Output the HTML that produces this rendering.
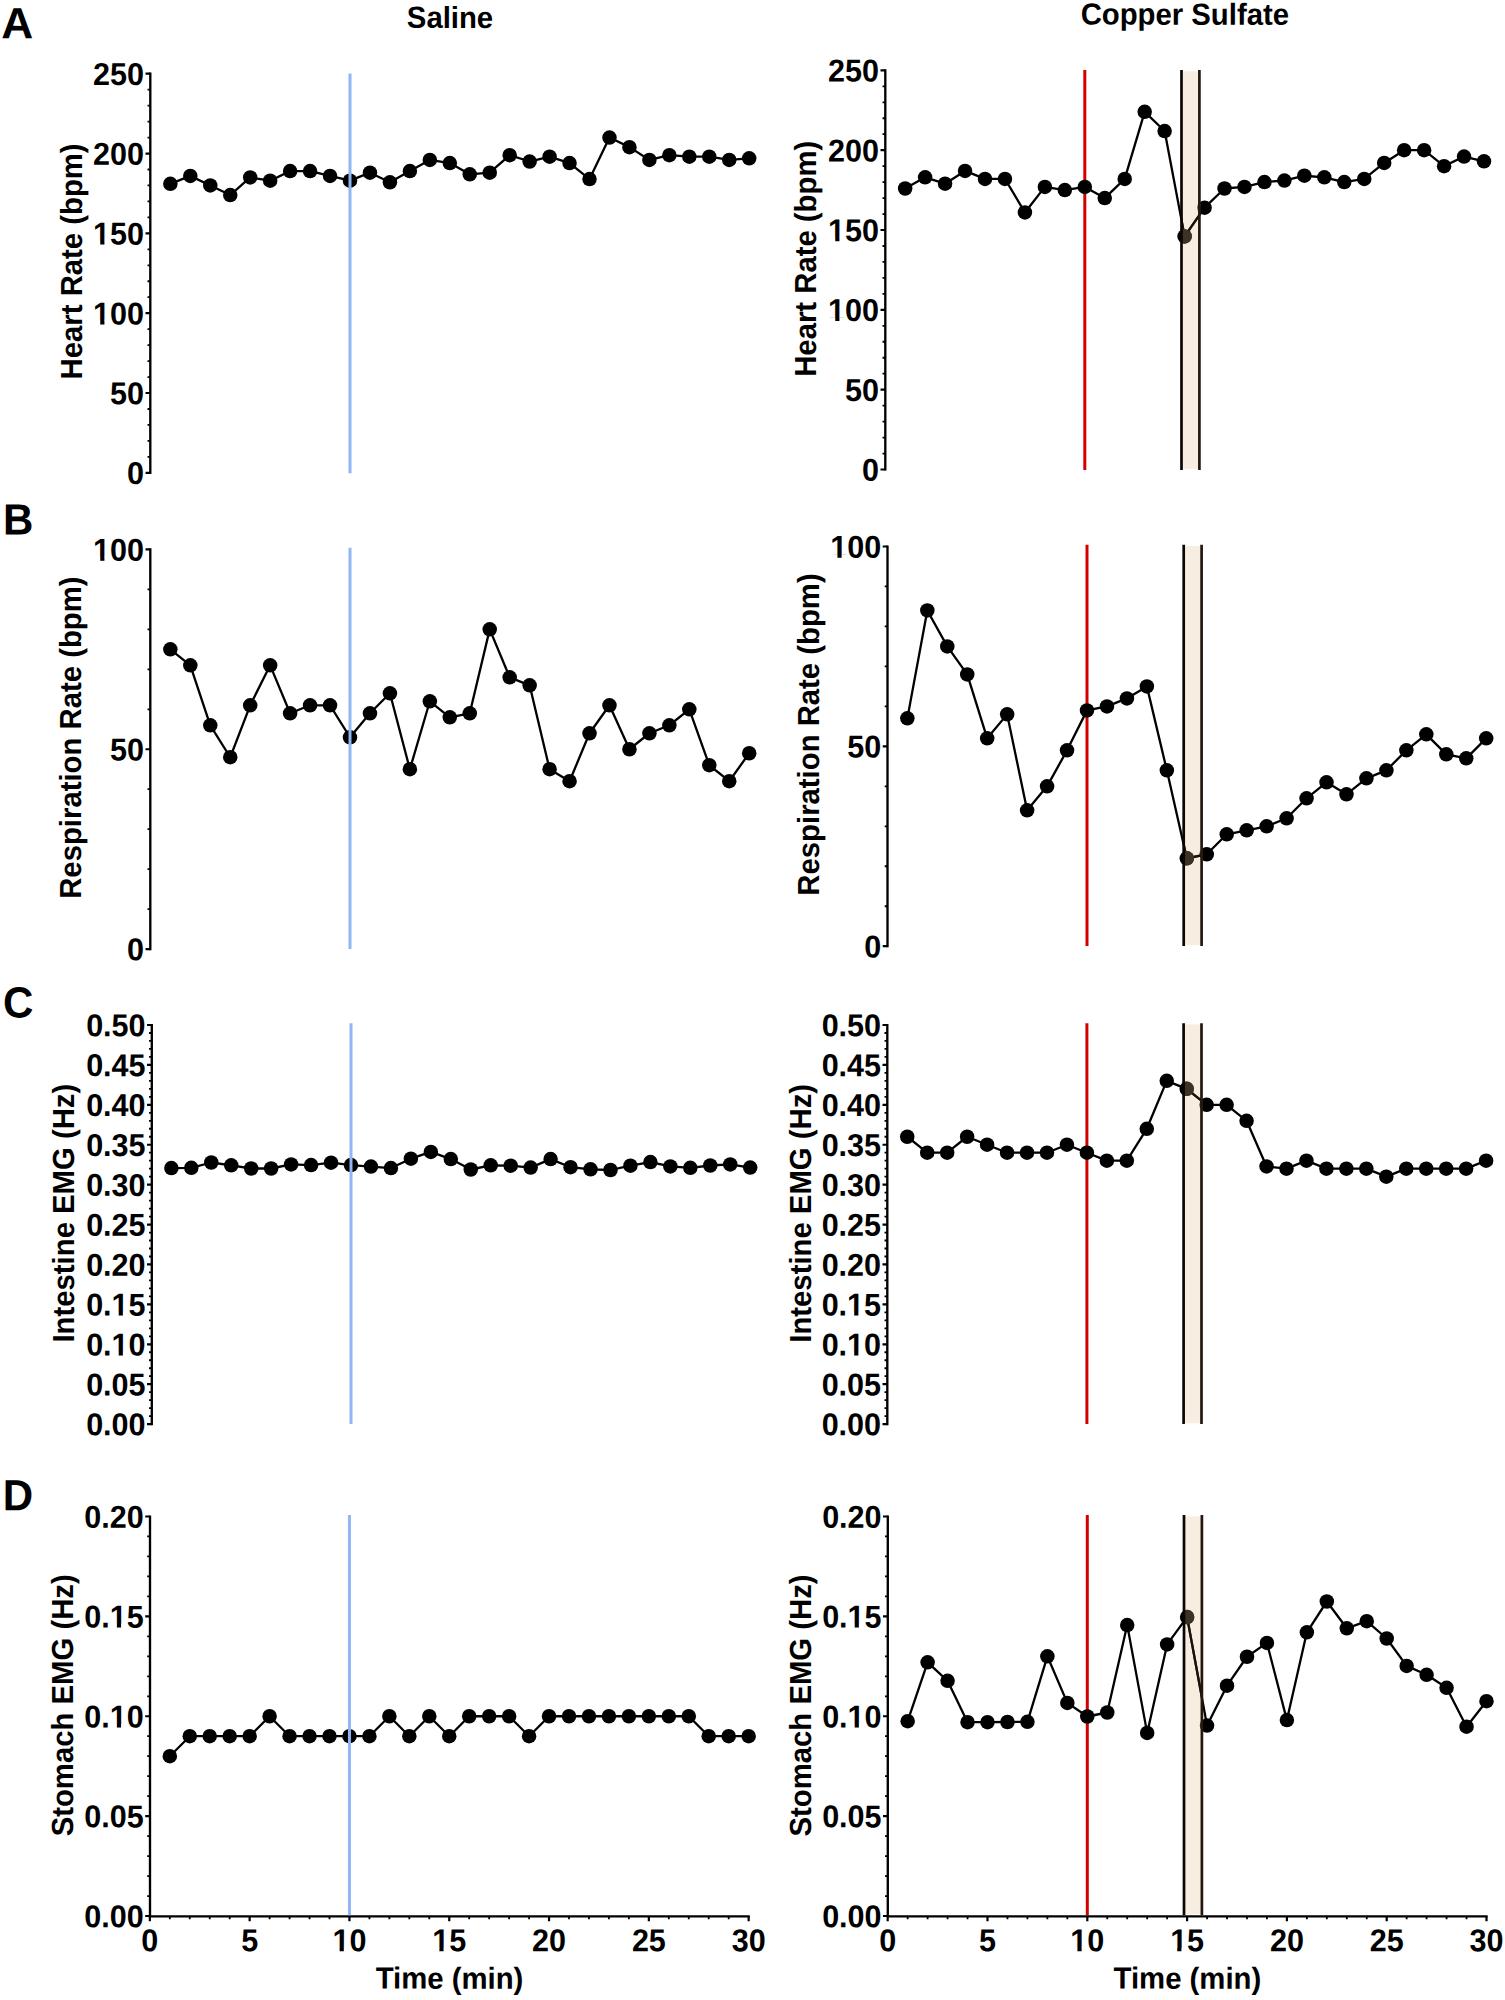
<!DOCTYPE html>
<html lang="en"><head><meta charset="utf-8"><title>Figure</title>
<style>html,body{margin:0;padding:0;background:#fff}svg{display:block}text{text-rendering:geometricPrecision;font-family:"Liberation Sans",sans-serif;font-weight:bold;fill:#000}.tk{font-size:30.5px}.tt{font-size:29.3px}.lt{font-size:42px}</style>
</head><body>
<svg width="1505" height="2000" viewBox="0 0 1505 2000">
<rect width="1505" height="2000" fill="#fff"/>
<text class="lt" transform="translate(1.2 38.3) rotate(0.1) scale(1.055 1.04)">A</text>
<text class="lt" transform="translate(3 534.6) rotate(0.1) scale(1.0 1.04)">B</text>
<text class="lt" transform="translate(3 1017.4) rotate(0.1) scale(1.0 1.04)">C</text>
<text class="lt" transform="translate(2.8 1510.2) rotate(0.1) scale(1.0 1.04)">D</text>
<text class="tt" text-anchor="middle" transform="translate(450 27.9) rotate(0.1) scale(1.0 1.04)">Saline</text>
<text class="tt" text-anchor="middle" transform="translate(1184.8 24.7) rotate(0.1) scale(1.0 1.04)">Copper Sulfate</text>
<g>
<text class="tt" text-anchor="middle" transform="translate(81.7 261.4) rotate(-90) scale(1.0 1.04)">Heart Rate (bpm)</text>
<path d="M150.3 72.6V473.95" stroke="#000" stroke-width="2.35" fill="none"/>
<path d="M145.53 472.85H150.3M145.53 393.02H150.3M145.53 313.19H150.3M145.53 233.36H150.3M145.53 153.53H150.3M145.53 73.7H150.3" stroke="#000" stroke-width="2.2" fill="none"/>
<path d="M147.53 456.88H150.3M147.53 440.92H150.3M147.53 424.95H150.3M147.53 408.99H150.3M147.53 377.05H150.3M147.53 361.09H150.3M147.53 345.12H150.3M147.53 329.16H150.3M147.53 297.22H150.3M147.53 281.26H150.3M147.53 265.29H150.3M147.53 249.33H150.3M147.53 217.39H150.3M147.53 201.43H150.3M147.53 185.46H150.3M147.53 169.5H150.3M147.53 137.56H150.3M147.53 121.6H150.3M147.53 105.63H150.3M147.53 89.67H150.3" stroke="#000" stroke-width="1.8" fill="none"/>
<text class="tk" text-anchor="end" transform="translate(144 484.15) rotate(0.1) scale(1.0 1.04)">0</text>
<text class="tk" text-anchor="end" transform="translate(144 404.32) rotate(0.1) scale(1.0 1.04)">50</text>
<g transform="translate(144 324.49) rotate(0.1) scale(1.0 1.04)"><text class="tk" text-anchor="end">100</text><g fill="#fff"><rect x="-49.97" y="-3.46" width="6.20" height="4.51"/><rect x="-39.58" y="-3.46" width="5.81" height="4.51"/></g></g>
<g transform="translate(144 244.66) rotate(0.1) scale(1.0 1.04)"><text class="tk" text-anchor="end">150</text><g fill="#fff"><rect x="-49.97" y="-3.46" width="6.20" height="4.51"/><rect x="-39.58" y="-3.46" width="5.81" height="4.51"/></g></g>
<text class="tk" text-anchor="end" transform="translate(144 164.83) rotate(0.1) scale(1.0 1.04)">200</text>
<text class="tk" text-anchor="end" transform="translate(144 85) rotate(0.1) scale(1.0 1.04)">250</text>
<g fill="#000"><circle cx="170.36" cy="183.87" r="7.25"/><circle cx="190.32" cy="175.88" r="7.25"/><circle cx="210.28" cy="185.46" r="7.25"/><circle cx="230.24" cy="195.04" r="7.25"/><circle cx="250.2" cy="177.48" r="7.25"/><circle cx="270.16" cy="180.67" r="7.25"/><circle cx="290.12" cy="171.09" r="7.25"/><circle cx="310.08" cy="171.09" r="7.25"/><circle cx="330.04" cy="175.88" r="7.25"/><circle cx="350" cy="180.67" r="7.25"/><circle cx="369.96" cy="172.69" r="7.25"/><circle cx="389.92" cy="182.27" r="7.25"/><circle cx="409.88" cy="171.09" r="7.25"/><circle cx="429.84" cy="159.92" r="7.25"/><circle cx="449.8" cy="163.11" r="7.25"/><circle cx="469.76" cy="174.29" r="7.25"/><circle cx="489.72" cy="172.69" r="7.25"/><circle cx="509.68" cy="155.13" r="7.25"/><circle cx="529.64" cy="161.51" r="7.25"/><circle cx="549.6" cy="156.72" r="7.25"/><circle cx="569.56" cy="163.11" r="7.25"/><circle cx="589.52" cy="179.08" r="7.25"/><circle cx="609.48" cy="137.56" r="7.25"/><circle cx="629.44" cy="147.14" r="7.25"/><circle cx="649.4" cy="159.92" r="7.25"/><circle cx="669.36" cy="155.13" r="7.25"/><circle cx="689.32" cy="156.72" r="7.25"/><circle cx="709.28" cy="156.72" r="7.25"/><circle cx="729.24" cy="159.92" r="7.25"/><circle cx="749.2" cy="158.32" r="7.25"/></g>
<polyline points="170.36,183.87 190.32,175.88 210.28,185.46 230.24,195.04 250.2,177.48 270.16,180.67 290.12,171.09 310.08,171.09 330.04,175.88 350,180.67 369.96,172.69 389.92,182.27 409.88,171.09 429.84,159.92 449.8,163.11 469.76,174.29 489.72,172.69 509.68,155.13 529.64,161.51 549.6,156.72 569.56,163.11 589.52,179.08 609.48,137.56 629.44,147.14 649.4,159.92 669.36,155.13 689.32,156.72 709.28,156.72 729.24,159.92 749.2,158.32" fill="none" stroke="#000" stroke-width="2.3" stroke-linejoin="round"/>
<line x1="350" y1="73.4" x2="350" y2="473.25" stroke="#92b6f5" stroke-width="3"/>
</g>
<g>
<text class="tt" text-anchor="middle" transform="translate(815.9 258.8) rotate(-90) scale(1.0 1.04)">Heart Rate (bpm)</text>
<line x1="1084.8" y1="70.05" x2="1084.8" y2="469.9" stroke="#d40000" stroke-width="3"/>
<path d="M885.3 69.25V470.6" stroke="#000" stroke-width="2.35" fill="none"/>
<path d="M880.52 469.5H885.3M880.52 389.67H885.3M880.52 309.84H885.3M880.52 230.01H885.3M880.52 150.18H885.3M880.52 70.35H885.3" stroke="#000" stroke-width="2.2" fill="none"/>
<path d="M882.52 453.53H885.3M882.52 437.57H885.3M882.52 421.6H885.3M882.52 405.64H885.3M882.52 373.7H885.3M882.52 357.74H885.3M882.52 341.77H885.3M882.52 325.81H885.3M882.52 293.87H885.3M882.52 277.91H885.3M882.52 261.94H885.3M882.52 245.98H885.3M882.52 214.04H885.3M882.52 198.08H885.3M882.52 182.11H885.3M882.52 166.15H885.3M882.52 134.21H885.3M882.52 118.25H885.3M882.52 102.28H885.3M882.52 86.32H885.3" stroke="#000" stroke-width="1.8" fill="none"/>
<text class="tk" text-anchor="end" transform="translate(879 480.8) rotate(0.1) scale(1.0 1.04)">0</text>
<text class="tk" text-anchor="end" transform="translate(879 400.97) rotate(0.1) scale(1.0 1.04)">50</text>
<g transform="translate(879 321.14) rotate(0.1) scale(1.0 1.04)"><text class="tk" text-anchor="end">100</text><g fill="#fff"><rect x="-49.97" y="-3.46" width="6.20" height="4.51"/><rect x="-39.58" y="-3.46" width="5.81" height="4.51"/></g></g>
<g transform="translate(879 241.31) rotate(0.1) scale(1.0 1.04)"><text class="tk" text-anchor="end">150</text><g fill="#fff"><rect x="-49.97" y="-3.46" width="6.20" height="4.51"/><rect x="-39.58" y="-3.46" width="5.81" height="4.51"/></g></g>
<text class="tk" text-anchor="end" transform="translate(879 161.48) rotate(0.1) scale(1.0 1.04)">200</text>
<text class="tk" text-anchor="end" transform="translate(879 81.65) rotate(0.1) scale(1.0 1.04)">250</text>
<g fill="#000"><circle cx="905.16" cy="188.5" r="7.25"/><circle cx="925.12" cy="177.32" r="7.25"/><circle cx="945.08" cy="183.71" r="7.25"/><circle cx="965.04" cy="170.94" r="7.25"/><circle cx="985" cy="178.92" r="7.25"/><circle cx="1004.96" cy="178.92" r="7.25"/><circle cx="1024.92" cy="212.45" r="7.25"/><circle cx="1044.88" cy="186.9" r="7.25"/><circle cx="1064.84" cy="190.09" r="7.25"/><circle cx="1084.8" cy="186.9" r="7.25"/><circle cx="1104.76" cy="198.08" r="7.25"/><circle cx="1124.72" cy="178.92" r="7.25"/><circle cx="1144.68" cy="111.86" r="7.25"/><circle cx="1164.64" cy="131.02" r="7.25"/><circle cx="1184.6" cy="236.4" r="7.25"/><circle cx="1204.56" cy="207.66" r="7.25"/><circle cx="1224.52" cy="188.5" r="7.25"/><circle cx="1244.48" cy="186.9" r="7.25"/><circle cx="1264.44" cy="182.11" r="7.25"/><circle cx="1284.4" cy="180.52" r="7.25"/><circle cx="1304.36" cy="175.73" r="7.25"/><circle cx="1324.32" cy="177.32" r="7.25"/><circle cx="1344.28" cy="182.11" r="7.25"/><circle cx="1364.24" cy="178.92" r="7.25"/><circle cx="1384.2" cy="162.95" r="7.25"/><circle cx="1404.16" cy="150.18" r="7.25"/><circle cx="1424.12" cy="150.18" r="7.25"/><circle cx="1444.08" cy="166.15" r="7.25"/><circle cx="1464.04" cy="156.57" r="7.25"/><circle cx="1484" cy="161.36" r="7.25"/></g>
<polyline points="905.16,188.5 925.12,177.32 945.08,183.71 965.04,170.94 985,178.92 1004.96,178.92 1024.92,212.45 1044.88,186.9 1064.84,190.09 1084.8,186.9 1104.76,198.08 1124.72,178.92 1144.68,111.86 1164.64,131.02 1184.6,236.4 1204.56,207.66 1224.52,188.5 1244.48,186.9 1264.44,182.11 1284.4,180.52 1304.36,175.73 1324.32,177.32 1344.28,182.11 1364.24,178.92 1384.2,162.95 1404.16,150.18 1424.12,150.18 1444.08,166.15 1464.04,156.57 1484,161.36" fill="none" stroke="#000" stroke-width="2.3" stroke-linejoin="round"/>
<rect x="1181.8" y="71.35" width="18.5" height="397.65" fill="#e6bd8f" fill-opacity="0.265"/>
<clipPath id="band1"><rect x="1181.8" y="70.05" width="18.5" height="399.85"/></clipPath>
<g clip-path="url(#band1)"><polyline points="1164.64,131.02 1184.6,236.4 1204.56,207.66" fill="none" stroke="#1a1109" stroke-width="2.3" stroke-linejoin="round"/><circle cx="1184.6" cy="236.4" r="7.25" fill="#3d3226"/></g>
<path d="M1181.5 70.05V469.9" stroke="#0a0603" stroke-width="2.7" fill="none"/><path d="M1199.4 70.05V469.9" stroke="#24180e" stroke-width="2.7" fill="none"/>
</g>
<g>
<text class="tt" text-anchor="middle" transform="translate(81.4 737.65) rotate(-90) scale(1.0 1.04)">Respiration Rate (bpm)</text>
<path d="M150.3 548.35V950.15" stroke="#000" stroke-width="2.35" fill="none"/>
<path d="M145.53 949.05H150.3M145.53 749.25H150.3M145.53 549.45H150.3" stroke="#000" stroke-width="2.2" fill="none"/>
<path d="M147.53 909.09H150.3M147.53 869.13H150.3M147.53 829.17H150.3M147.53 789.21H150.3M147.53 709.29H150.3M147.53 669.33H150.3M147.53 629.37H150.3M147.53 589.41H150.3" stroke="#000" stroke-width="1.8" fill="none"/>
<text class="tk" text-anchor="end" transform="translate(144 960.35) rotate(0.1) scale(1.0 1.04)">0</text>
<text class="tk" text-anchor="end" transform="translate(144 760.55) rotate(0.1) scale(1.0 1.04)">50</text>
<g transform="translate(144 560.75) rotate(0.1) scale(1.0 1.04)"><text class="tk" text-anchor="end">100</text><g fill="#fff"><rect x="-49.97" y="-3.46" width="6.20" height="4.51"/><rect x="-39.58" y="-3.46" width="5.81" height="4.51"/></g></g>
<g fill="#000"><circle cx="170.36" cy="649.35" r="7.25"/><circle cx="190.32" cy="665.33" r="7.25"/><circle cx="210.28" cy="725.27" r="7.25"/><circle cx="230.24" cy="757.24" r="7.25"/><circle cx="250.2" cy="705.29" r="7.25"/><circle cx="270.16" cy="665.33" r="7.25"/><circle cx="290.12" cy="713.29" r="7.25"/><circle cx="310.08" cy="705.29" r="7.25"/><circle cx="330.04" cy="705.29" r="7.25"/><circle cx="350" cy="737.26" r="7.25"/><circle cx="369.96" cy="713.29" r="7.25"/><circle cx="389.92" cy="693.31" r="7.25"/><circle cx="409.88" cy="769.23" r="7.25"/><circle cx="429.84" cy="701.3" r="7.25"/><circle cx="449.8" cy="717.28" r="7.25"/><circle cx="469.76" cy="713.29" r="7.25"/><circle cx="489.72" cy="629.37" r="7.25"/><circle cx="509.68" cy="677.32" r="7.25"/><circle cx="529.64" cy="685.31" r="7.25"/><circle cx="549.6" cy="769.23" r="7.25"/><circle cx="569.56" cy="781.22" r="7.25"/><circle cx="589.52" cy="733.27" r="7.25"/><circle cx="609.48" cy="705.29" r="7.25"/><circle cx="629.44" cy="749.25" r="7.25"/><circle cx="649.4" cy="733.27" r="7.25"/><circle cx="669.36" cy="725.27" r="7.25"/><circle cx="689.32" cy="709.29" r="7.25"/><circle cx="709.28" cy="765.23" r="7.25"/><circle cx="729.24" cy="781.22" r="7.25"/><circle cx="749.2" cy="753.25" r="7.25"/></g>
<polyline points="170.36,649.35 190.32,665.33 210.28,725.27 230.24,757.24 250.2,705.29 270.16,665.33 290.12,713.29 310.08,705.29 330.04,705.29 350,737.26 369.96,713.29 389.92,693.31 409.88,769.23 429.84,701.3 449.8,717.28 469.76,713.29 489.72,629.37 509.68,677.32 529.64,685.31 549.6,769.23 569.56,781.22 589.52,733.27 609.48,705.29 629.44,749.25 649.4,733.27 669.36,725.27 689.32,709.29 709.28,765.23 729.24,781.22 749.2,753.25" fill="none" stroke="#000" stroke-width="2.3" stroke-linejoin="round"/>
<line x1="350" y1="547.75" x2="350" y2="948.95" stroke="#92b6f5" stroke-width="3"/>
</g>
<g>
<text class="tt" text-anchor="middle" transform="translate(818.8 734.5) rotate(-90) scale(1.0 1.04)">Respiration Rate (bpm)</text>
<line x1="1087" y1="544.8" x2="1087" y2="946.1" stroke="#d40000" stroke-width="3"/>
<path d="M887.5 545.4V947.3" stroke="#000" stroke-width="2.35" fill="none"/>
<path d="M882.73 946.2H887.5M882.73 746.35H887.5M882.73 546.5H887.5" stroke="#000" stroke-width="2.2" fill="none"/>
<path d="M884.73 906.23H887.5M884.73 866.26H887.5M884.73 826.29H887.5M884.73 786.32H887.5M884.73 706.38H887.5M884.73 666.41H887.5M884.73 626.44H887.5M884.73 586.47H887.5" stroke="#000" stroke-width="1.8" fill="none"/>
<text class="tk" text-anchor="end" transform="translate(881.2 957.5) rotate(0.1) scale(1.0 1.04)">0</text>
<text class="tk" text-anchor="end" transform="translate(881.2 757.65) rotate(0.1) scale(1.0 1.04)">50</text>
<g transform="translate(881.2 557.8) rotate(0.1) scale(1.0 1.04)"><text class="tk" text-anchor="end">100</text><g fill="#fff"><rect x="-49.97" y="-3.46" width="6.20" height="4.51"/><rect x="-39.58" y="-3.46" width="5.81" height="4.51"/></g></g>
<g fill="#000"><circle cx="907.36" cy="718.37" r="7.25"/><circle cx="927.32" cy="610.45" r="7.25"/><circle cx="947.28" cy="646.42" r="7.25"/><circle cx="967.24" cy="674.4" r="7.25"/><circle cx="987.2" cy="738.36" r="7.25"/><circle cx="1007.16" cy="714.37" r="7.25"/><circle cx="1027.12" cy="810.3" r="7.25"/><circle cx="1047.08" cy="786.32" r="7.25"/><circle cx="1067.04" cy="750.35" r="7.25"/><circle cx="1087" cy="710.38" r="7.25"/><circle cx="1106.96" cy="706.38" r="7.25"/><circle cx="1126.92" cy="698.39" r="7.25"/><circle cx="1146.88" cy="686.39" r="7.25"/><circle cx="1166.84" cy="770.33" r="7.25"/><circle cx="1186.8" cy="858.27" r="7.25"/><circle cx="1206.76" cy="854.27" r="7.25"/><circle cx="1226.72" cy="834.28" r="7.25"/><circle cx="1246.68" cy="830.29" r="7.25"/><circle cx="1266.64" cy="826.29" r="7.25"/><circle cx="1286.6" cy="818.3" r="7.25"/><circle cx="1306.56" cy="798.31" r="7.25"/><circle cx="1326.52" cy="782.32" r="7.25"/><circle cx="1346.48" cy="794.31" r="7.25"/><circle cx="1366.44" cy="778.33" r="7.25"/><circle cx="1386.4" cy="770.33" r="7.25"/><circle cx="1406.36" cy="750.35" r="7.25"/><circle cx="1426.32" cy="734.36" r="7.25"/><circle cx="1446.28" cy="754.34" r="7.25"/><circle cx="1466.24" cy="758.34" r="7.25"/><circle cx="1486.2" cy="738.36" r="7.25"/></g>
<polyline points="907.36,718.37 927.32,610.45 947.28,646.42 967.24,674.4 987.2,738.36 1007.16,714.37 1027.12,810.3 1047.08,786.32 1067.04,750.35 1087,710.38 1106.96,706.38 1126.92,698.39 1146.88,686.39 1166.84,770.33 1186.8,858.27 1206.76,854.27 1226.72,834.28 1246.68,830.29 1266.64,826.29 1286.6,818.3 1306.56,798.31 1326.52,782.32 1346.48,794.31 1366.44,778.33 1386.4,770.33 1406.36,750.35 1426.32,734.36 1446.28,754.34 1466.24,758.34 1486.2,738.36" fill="none" stroke="#000" stroke-width="2.3" stroke-linejoin="round"/>
<rect x="1184" y="546.1" width="18.5" height="399.1" fill="#e6bd8f" fill-opacity="0.265"/>
<clipPath id="band3"><rect x="1184" y="544.8" width="18.5" height="401.3"/></clipPath>
<g clip-path="url(#band3)"><polyline points="1166.84,770.33 1186.8,858.27 1206.76,854.27" fill="none" stroke="#1a1109" stroke-width="2.3" stroke-linejoin="round"/><circle cx="1186.8" cy="858.27" r="7.25" fill="#3d3226"/></g>
<path d="M1183.7 544.8V946.1" stroke="#0a0603" stroke-width="2.7" fill="none"/><path d="M1201.6 544.8V946.1" stroke="#24180e" stroke-width="2.7" fill="none"/>
</g>
<g>
<text class="tt" text-anchor="middle" transform="translate(74.4 1213.15) rotate(-90) scale(1.0 1.04)">Intestine EMG (Hz)</text>
<path d="M151.8 1023.9V1425.2" stroke="#000" stroke-width="2.35" fill="none"/>
<path d="M147.03 1424.1H151.8M147.03 1384.19H151.8M147.03 1344.28H151.8M147.03 1304.37H151.8M147.03 1264.46H151.8M147.03 1224.55H151.8M147.03 1184.64H151.8M147.03 1144.73H151.8M147.03 1104.82H151.8M147.03 1064.91H151.8M147.03 1025H151.8" stroke="#000" stroke-width="2.2" fill="none"/>
<path d="M149.03 1416.12H151.8M149.03 1408.14H151.8M149.03 1400.15H151.8M149.03 1392.17H151.8M149.03 1376.21H151.8M149.03 1368.23H151.8M149.03 1360.24H151.8M149.03 1352.26H151.8M149.03 1336.3H151.8M149.03 1328.32H151.8M149.03 1320.33H151.8M149.03 1312.35H151.8M149.03 1296.39H151.8M149.03 1288.41H151.8M149.03 1280.42H151.8M149.03 1272.44H151.8M149.03 1256.48H151.8M149.03 1248.5H151.8M149.03 1240.51H151.8M149.03 1232.53H151.8M149.03 1216.57H151.8M149.03 1208.59H151.8M149.03 1200.6H151.8M149.03 1192.62H151.8M149.03 1176.66H151.8M149.03 1168.68H151.8M149.03 1160.69H151.8M149.03 1152.71H151.8M149.03 1136.75H151.8M149.03 1128.77H151.8M149.03 1120.78H151.8M149.03 1112.8H151.8M149.03 1096.84H151.8M149.03 1088.86H151.8M149.03 1080.87H151.8M149.03 1072.89H151.8M149.03 1056.93H151.8M149.03 1048.95H151.8M149.03 1040.96H151.8M149.03 1032.98H151.8" stroke="#000" stroke-width="1.8" fill="none"/>
<text class="tk" text-anchor="end" transform="translate(145.5 1435.4) rotate(0.1) scale(1.0 1.04)">0.00</text>
<text class="tk" text-anchor="end" transform="translate(145.5 1395.49) rotate(0.1) scale(1.0 1.04)">0.05</text>
<g transform="translate(145.5 1355.58) rotate(0.1) scale(1.0 1.04)"><text class="tk" text-anchor="end">0.10</text><g fill="#fff"><rect x="-33.00" y="-3.46" width="6.20" height="4.51"/><rect x="-22.62" y="-3.46" width="5.81" height="4.51"/></g></g>
<g transform="translate(145.5 1315.67) rotate(0.1) scale(1.0 1.04)"><text class="tk" text-anchor="end">0.15</text><g fill="#fff"><rect x="-33.00" y="-3.46" width="6.20" height="4.51"/><rect x="-22.62" y="-3.46" width="5.81" height="4.51"/></g></g>
<text class="tk" text-anchor="end" transform="translate(145.5 1275.76) rotate(0.1) scale(1.0 1.04)">0.20</text>
<text class="tk" text-anchor="end" transform="translate(145.5 1235.85) rotate(0.1) scale(1.0 1.04)">0.25</text>
<text class="tk" text-anchor="end" transform="translate(145.5 1195.94) rotate(0.1) scale(1.0 1.04)">0.30</text>
<text class="tk" text-anchor="end" transform="translate(145.5 1156.03) rotate(0.1) scale(1.0 1.04)">0.35</text>
<text class="tk" text-anchor="end" transform="translate(145.5 1116.12) rotate(0.1) scale(1.0 1.04)">0.40</text>
<text class="tk" text-anchor="end" transform="translate(145.5 1076.21) rotate(0.1) scale(1.0 1.04)">0.45</text>
<text class="tk" text-anchor="end" transform="translate(145.5 1036.3) rotate(0.1) scale(1.0 1.04)">0.50</text>
<g fill="#000"><circle cx="171.36" cy="1168.05" r="7.25"/><circle cx="191.32" cy="1167.8" r="7.25"/><circle cx="211.28" cy="1162.5" r="7.25"/><circle cx="231.24" cy="1165.3" r="7.25"/><circle cx="251.2" cy="1168.5" r="7.25"/><circle cx="271.16" cy="1168.5" r="7.25"/><circle cx="291.12" cy="1164.4" r="7.25"/><circle cx="311.08" cy="1165.1" r="7.25"/><circle cx="331.04" cy="1162.7" r="7.25"/><circle cx="351" cy="1165.1" r="7.25"/><circle cx="370.96" cy="1166.6" r="7.25"/><circle cx="390.92" cy="1168.05" r="7.25"/><circle cx="410.88" cy="1158.7" r="7.25"/><circle cx="430.84" cy="1151.9" r="7.25"/><circle cx="450.8" cy="1159.1" r="7.25"/><circle cx="470.76" cy="1169.5" r="7.25"/><circle cx="490.72" cy="1165.3" r="7.25"/><circle cx="510.68" cy="1165.7" r="7.25"/><circle cx="530.64" cy="1167.6" r="7.25"/><circle cx="550.6" cy="1159.1" r="7.25"/><circle cx="570.56" cy="1167.2" r="7.25"/><circle cx="590.52" cy="1169.3" r="7.25"/><circle cx="610.48" cy="1170" r="7.25"/><circle cx="630.44" cy="1165.7" r="7.25"/><circle cx="650.4" cy="1162.1" r="7.25"/><circle cx="670.36" cy="1166.4" r="7.25"/><circle cx="690.32" cy="1167.8" r="7.25"/><circle cx="710.28" cy="1165.5" r="7.25"/><circle cx="730.24" cy="1164.4" r="7.25"/><circle cx="750.2" cy="1167.6" r="7.25"/></g>
<polyline points="171.36,1168.05 191.32,1167.8 211.28,1162.5 231.24,1165.3 251.2,1168.5 271.16,1168.5 291.12,1164.4 311.08,1165.1 331.04,1162.7 351,1165.1 370.96,1166.6 390.92,1168.05 410.88,1158.7 430.84,1151.9 450.8,1159.1 470.76,1169.5 490.72,1165.3 510.68,1165.7 530.64,1167.6 550.6,1159.1 570.56,1167.2 590.52,1169.3 610.48,1170 630.44,1165.7 650.4,1162.1 670.36,1166.4 690.32,1167.8 710.28,1165.5 730.24,1164.4 750.2,1167.6" fill="none" stroke="#000" stroke-width="2.3" stroke-linejoin="round"/>
<line x1="351" y1="1023.15" x2="351" y2="1424.1" stroke="#92b6f5" stroke-width="3"/>
</g>
<g>
<text class="tt" text-anchor="middle" transform="translate(810.9 1213.35) rotate(-90) scale(1.0 1.04)">Intestine EMG (Hz)</text>
<line x1="1086.9" y1="1023.15" x2="1086.9" y2="1424.1" stroke="#d40000" stroke-width="3"/>
<path d="M887.3 1023.9V1425.2" stroke="#000" stroke-width="2.35" fill="none"/>
<path d="M882.52 1424.1H887.3M882.52 1384.19H887.3M882.52 1344.28H887.3M882.52 1304.37H887.3M882.52 1264.46H887.3M882.52 1224.55H887.3M882.52 1184.64H887.3M882.52 1144.73H887.3M882.52 1104.82H887.3M882.52 1064.91H887.3M882.52 1025H887.3" stroke="#000" stroke-width="2.2" fill="none"/>
<path d="M884.52 1416.12H887.3M884.52 1408.14H887.3M884.52 1400.15H887.3M884.52 1392.17H887.3M884.52 1376.21H887.3M884.52 1368.23H887.3M884.52 1360.24H887.3M884.52 1352.26H887.3M884.52 1336.3H887.3M884.52 1328.32H887.3M884.52 1320.33H887.3M884.52 1312.35H887.3M884.52 1296.39H887.3M884.52 1288.41H887.3M884.52 1280.42H887.3M884.52 1272.44H887.3M884.52 1256.48H887.3M884.52 1248.5H887.3M884.52 1240.51H887.3M884.52 1232.53H887.3M884.52 1216.57H887.3M884.52 1208.59H887.3M884.52 1200.6H887.3M884.52 1192.62H887.3M884.52 1176.66H887.3M884.52 1168.68H887.3M884.52 1160.69H887.3M884.52 1152.71H887.3M884.52 1136.75H887.3M884.52 1128.77H887.3M884.52 1120.78H887.3M884.52 1112.8H887.3M884.52 1096.84H887.3M884.52 1088.86H887.3M884.52 1080.87H887.3M884.52 1072.89H887.3M884.52 1056.93H887.3M884.52 1048.95H887.3M884.52 1040.96H887.3M884.52 1032.98H887.3" stroke="#000" stroke-width="1.8" fill="none"/>
<text class="tk" text-anchor="end" transform="translate(881 1435.4) rotate(0.1) scale(1.0 1.04)">0.00</text>
<text class="tk" text-anchor="end" transform="translate(881 1395.49) rotate(0.1) scale(1.0 1.04)">0.05</text>
<g transform="translate(881 1355.58) rotate(0.1) scale(1.0 1.04)"><text class="tk" text-anchor="end">0.10</text><g fill="#fff"><rect x="-33.00" y="-3.46" width="6.20" height="4.51"/><rect x="-22.62" y="-3.46" width="5.81" height="4.51"/></g></g>
<g transform="translate(881 1315.67) rotate(0.1) scale(1.0 1.04)"><text class="tk" text-anchor="end">0.15</text><g fill="#fff"><rect x="-33.00" y="-3.46" width="6.20" height="4.51"/><rect x="-22.62" y="-3.46" width="5.81" height="4.51"/></g></g>
<text class="tk" text-anchor="end" transform="translate(881 1275.76) rotate(0.1) scale(1.0 1.04)">0.20</text>
<text class="tk" text-anchor="end" transform="translate(881 1235.85) rotate(0.1) scale(1.0 1.04)">0.25</text>
<text class="tk" text-anchor="end" transform="translate(881 1195.94) rotate(0.1) scale(1.0 1.04)">0.30</text>
<text class="tk" text-anchor="end" transform="translate(881 1156.03) rotate(0.1) scale(1.0 1.04)">0.35</text>
<text class="tk" text-anchor="end" transform="translate(881 1116.12) rotate(0.1) scale(1.0 1.04)">0.40</text>
<text class="tk" text-anchor="end" transform="translate(881 1076.21) rotate(0.1) scale(1.0 1.04)">0.45</text>
<text class="tk" text-anchor="end" transform="translate(881 1036.3) rotate(0.1) scale(1.0 1.04)">0.50</text>
<g fill="#000"><circle cx="907.26" cy="1136.75" r="7.25"/><circle cx="927.22" cy="1152.71" r="7.25"/><circle cx="947.18" cy="1152.71" r="7.25"/><circle cx="967.14" cy="1136.75" r="7.25"/><circle cx="987.1" cy="1144.73" r="7.25"/><circle cx="1007.06" cy="1152.71" r="7.25"/><circle cx="1027.02" cy="1152.71" r="7.25"/><circle cx="1046.98" cy="1152.71" r="7.25"/><circle cx="1066.94" cy="1144.73" r="7.25"/><circle cx="1086.9" cy="1152.71" r="7.25"/><circle cx="1106.86" cy="1160.69" r="7.25"/><circle cx="1126.82" cy="1160.69" r="7.25"/><circle cx="1146.78" cy="1128.77" r="7.25"/><circle cx="1166.74" cy="1080.87" r="7.25"/><circle cx="1186.7" cy="1088.86" r="7.25"/><circle cx="1206.66" cy="1104.82" r="7.25"/><circle cx="1226.62" cy="1104.82" r="7.25"/><circle cx="1246.58" cy="1120.78" r="7.25"/><circle cx="1266.54" cy="1166.44" r="7.25"/><circle cx="1286.5" cy="1168.68" r="7.25"/><circle cx="1306.46" cy="1160.69" r="7.25"/><circle cx="1326.42" cy="1168.68" r="7.25"/><circle cx="1346.38" cy="1168.68" r="7.25"/><circle cx="1366.34" cy="1168.68" r="7.25"/><circle cx="1386.3" cy="1176.66" r="7.25"/><circle cx="1406.26" cy="1168.68" r="7.25"/><circle cx="1426.22" cy="1168.68" r="7.25"/><circle cx="1446.18" cy="1168.68" r="7.25"/><circle cx="1466.14" cy="1168.68" r="7.25"/><circle cx="1486.1" cy="1160.69" r="7.25"/></g>
<polyline points="907.26,1136.75 927.22,1152.71 947.18,1152.71 967.14,1136.75 987.1,1144.73 1007.06,1152.71 1027.02,1152.71 1046.98,1152.71 1066.94,1144.73 1086.9,1152.71 1106.86,1160.69 1126.82,1160.69 1146.78,1128.77 1166.74,1080.87 1186.7,1088.86 1206.66,1104.82 1226.62,1104.82 1246.58,1120.78 1266.54,1166.44 1286.5,1168.68 1306.46,1160.69 1326.42,1168.68 1346.38,1168.68 1366.34,1168.68 1386.3,1176.66 1406.26,1168.68 1426.22,1168.68 1446.18,1168.68 1466.14,1168.68 1486.1,1160.69" fill="none" stroke="#000" stroke-width="2.3" stroke-linejoin="round"/>
<rect x="1183.9" y="1024.45" width="18.5" height="398.75" fill="#e6bd8f" fill-opacity="0.265"/>
<clipPath id="band5"><rect x="1183.9" y="1023.15" width="18.5" height="400.95"/></clipPath>
<g clip-path="url(#band5)"><polyline points="1166.74,1080.87 1186.7,1088.86 1206.66,1104.82" fill="none" stroke="#1a1109" stroke-width="2.3" stroke-linejoin="round"/><circle cx="1186.7" cy="1088.86" r="7.25" fill="#3d3226"/></g>
<path d="M1183.6 1023.15V1424.1" stroke="#0a0603" stroke-width="2.7" fill="none"/><path d="M1201.5 1023.15V1424.1" stroke="#24180e" stroke-width="2.7" fill="none"/>
</g>
<g>
<text class="tt" text-anchor="middle" transform="translate(72.9 1705.3) rotate(-90) scale(1.0 1.04)">Stomach EMG (Hz)</text>
<path d="M150 1515.4V1917.1" stroke="#000" stroke-width="2.35" fill="none"/>
<path d="M145.22 1916H150M145.22 1816.12H150M145.22 1716.25H150M145.22 1616.38H150M145.22 1516.5H150" stroke="#000" stroke-width="2.2" fill="none"/>
<path d="M147.22 1896.03H150M147.22 1876.05H150M147.22 1856.08H150M147.22 1836.1H150M147.22 1796.15H150M147.22 1776.17H150M147.22 1756.2H150M147.22 1736.22H150M147.22 1696.28H150M147.22 1676.3H150M147.22 1656.33H150M147.22 1636.35H150M147.22 1596.4H150M147.22 1576.42H150M147.22 1556.45H150M147.22 1536.47H150" stroke="#000" stroke-width="1.8" fill="none"/>
<text class="tk" text-anchor="end" transform="translate(143.7 1927.3) rotate(0.1) scale(1.0 1.04)">0.00</text>
<text class="tk" text-anchor="end" transform="translate(143.7 1827.42) rotate(0.1) scale(1.0 1.04)">0.05</text>
<g transform="translate(143.7 1727.55) rotate(0.1) scale(1.0 1.04)"><text class="tk" text-anchor="end">0.10</text><g fill="#fff"><rect x="-33.00" y="-3.46" width="6.20" height="4.51"/><rect x="-22.62" y="-3.46" width="5.81" height="4.51"/></g></g>
<g transform="translate(143.7 1627.67) rotate(0.1) scale(1.0 1.04)"><text class="tk" text-anchor="end">0.15</text><g fill="#fff"><rect x="-33.00" y="-3.46" width="6.20" height="4.51"/><rect x="-22.62" y="-3.46" width="5.81" height="4.51"/></g></g>
<text class="tk" text-anchor="end" transform="translate(143.7 1527.8) rotate(0.1) scale(1.0 1.04)">0.20</text>
<path d="M148.82 1916.3H749.75" stroke="#000" stroke-width="2.3" fill="none"/>
<path d="M149.85 1916V1921.2M249.65 1916V1921.2M349.45 1916V1921.2M449.25 1916V1921.2M549.05 1916V1921.2M648.85 1916V1921.2M748.65 1916V1921.2" stroke="#000" stroke-width="2.2" fill="none"/>
<path d="M169.81 1916V1919.2M189.77 1916V1919.2M209.73 1916V1919.2M229.69 1916V1919.2M269.61 1916V1919.2M289.57 1916V1919.2M309.53 1916V1919.2M329.49 1916V1919.2M369.41 1916V1919.2M389.37 1916V1919.2M409.33 1916V1919.2M429.29 1916V1919.2M469.21 1916V1919.2M489.17 1916V1919.2M509.13 1916V1919.2M529.09 1916V1919.2M569.01 1916V1919.2M588.97 1916V1919.2M608.93 1916V1919.2M628.89 1916V1919.2M668.81 1916V1919.2M688.77 1916V1919.2M708.73 1916V1919.2M728.69 1916V1919.2" stroke="#000" stroke-width="1.8" fill="none"/>
<text class="tk" text-anchor="middle" transform="translate(149.85 1951.3) rotate(0.1) scale(1.0 1.04)">0</text>
<text class="tk" text-anchor="middle" transform="translate(249.65 1951.3) rotate(0.1) scale(1.0 1.04)">5</text>
<g transform="translate(349.45 1951.3) rotate(0.1) scale(1.0 1.04)"><text class="tk" text-anchor="middle">10</text><g fill="#fff"><rect x="-16.04" y="-3.46" width="6.20" height="4.51"/><rect x="-5.66" y="-3.46" width="5.81" height="4.51"/></g></g>
<g transform="translate(449.25 1951.3) rotate(0.1) scale(1.0 1.04)"><text class="tk" text-anchor="middle">15</text><g fill="#fff"><rect x="-16.04" y="-3.46" width="6.20" height="4.51"/><rect x="-5.66" y="-3.46" width="5.81" height="4.51"/></g></g>
<text class="tk" text-anchor="middle" transform="translate(549.05 1951.3) rotate(0.1) scale(1.0 1.04)">20</text>
<text class="tk" text-anchor="middle" transform="translate(648.85 1951.3) rotate(0.1) scale(1.0 1.04)">25</text>
<text class="tk" text-anchor="middle" transform="translate(748.65 1951.3) rotate(0.1) scale(1.0 1.04)">30</text>
<text class="tt" text-anchor="middle" transform="translate(449.55 1988.7) rotate(0.1) scale(1.0 1.04)">Time (min)</text>
<g fill="#000"><circle cx="169.81" cy="1756.2" r="7.25"/><circle cx="189.77" cy="1736.22" r="7.25"/><circle cx="209.73" cy="1736.22" r="7.25"/><circle cx="229.69" cy="1736.22" r="7.25"/><circle cx="249.65" cy="1736.22" r="7.25"/><circle cx="269.61" cy="1716.25" r="7.25"/><circle cx="289.57" cy="1736.22" r="7.25"/><circle cx="309.53" cy="1736.22" r="7.25"/><circle cx="329.49" cy="1736.22" r="7.25"/><circle cx="349.45" cy="1736.22" r="7.25"/><circle cx="369.41" cy="1736.22" r="7.25"/><circle cx="389.37" cy="1716.25" r="7.25"/><circle cx="409.33" cy="1736.22" r="7.25"/><circle cx="429.29" cy="1716.25" r="7.25"/><circle cx="449.25" cy="1736.22" r="7.25"/><circle cx="469.21" cy="1716.25" r="7.25"/><circle cx="489.17" cy="1716.25" r="7.25"/><circle cx="509.13" cy="1716.25" r="7.25"/><circle cx="529.09" cy="1736.22" r="7.25"/><circle cx="549.05" cy="1716.25" r="7.25"/><circle cx="569.01" cy="1716.25" r="7.25"/><circle cx="588.97" cy="1716.25" r="7.25"/><circle cx="608.93" cy="1716.25" r="7.25"/><circle cx="628.89" cy="1716.25" r="7.25"/><circle cx="648.85" cy="1716.25" r="7.25"/><circle cx="668.81" cy="1716.25" r="7.25"/><circle cx="688.77" cy="1716.25" r="7.25"/><circle cx="708.73" cy="1736.22" r="7.25"/><circle cx="728.69" cy="1736.22" r="7.25"/><circle cx="748.65" cy="1736.22" r="7.25"/></g>
<polyline points="169.81,1756.2 189.77,1736.22 209.73,1736.22 229.69,1736.22 249.65,1736.22 269.61,1716.25 289.57,1736.22 309.53,1736.22 329.49,1736.22 349.45,1736.22 369.41,1736.22 389.37,1716.25 409.33,1736.22 429.29,1716.25 449.25,1736.22 469.21,1716.25 489.17,1716.25 509.13,1716.25 529.09,1736.22 549.05,1716.25 569.01,1716.25 588.97,1716.25 608.93,1716.25 628.89,1716.25 648.85,1716.25 668.81,1716.25 688.77,1716.25 708.73,1736.22 728.69,1736.22 748.65,1736.22" fill="none" stroke="#000" stroke-width="2.3" stroke-linejoin="round"/>
<line x1="349.45" y1="1515" x2="349.45" y2="1915.15" stroke="#92b6f5" stroke-width="3"/>
</g>
<g>
<text class="tt" text-anchor="middle" transform="translate(811.2 1705.45) rotate(-90) scale(1.0 1.04)">Stomach EMG (Hz)</text>
<line x1="1087.3" y1="1515" x2="1087.3" y2="1915.15" stroke="#d40000" stroke-width="3"/>
<path d="M887.8 1515.4V1917.1" stroke="#000" stroke-width="2.35" fill="none"/>
<path d="M883.02 1916H887.8M883.02 1816.12H887.8M883.02 1716.25H887.8M883.02 1616.38H887.8M883.02 1516.5H887.8" stroke="#000" stroke-width="2.2" fill="none"/>
<path d="M885.02 1896.03H887.8M885.02 1876.05H887.8M885.02 1856.08H887.8M885.02 1836.1H887.8M885.02 1796.15H887.8M885.02 1776.17H887.8M885.02 1756.2H887.8M885.02 1736.22H887.8M885.02 1696.28H887.8M885.02 1676.3H887.8M885.02 1656.33H887.8M885.02 1636.35H887.8M885.02 1596.4H887.8M885.02 1576.42H887.8M885.02 1556.45H887.8M885.02 1536.47H887.8" stroke="#000" stroke-width="1.8" fill="none"/>
<text class="tk" text-anchor="end" transform="translate(881.5 1927.3) rotate(0.1) scale(1.0 1.04)">0.00</text>
<text class="tk" text-anchor="end" transform="translate(881.5 1827.42) rotate(0.1) scale(1.0 1.04)">0.05</text>
<g transform="translate(881.5 1727.55) rotate(0.1) scale(1.0 1.04)"><text class="tk" text-anchor="end">0.10</text><g fill="#fff"><rect x="-33.00" y="-3.46" width="6.20" height="4.51"/><rect x="-22.62" y="-3.46" width="5.81" height="4.51"/></g></g>
<g transform="translate(881.5 1627.67) rotate(0.1) scale(1.0 1.04)"><text class="tk" text-anchor="end">0.15</text><g fill="#fff"><rect x="-33.00" y="-3.46" width="6.20" height="4.51"/><rect x="-22.62" y="-3.46" width="5.81" height="4.51"/></g></g>
<text class="tk" text-anchor="end" transform="translate(881.5 1527.8) rotate(0.1) scale(1.0 1.04)">0.20</text>
<path d="M886.62 1916.3H1487.6" stroke="#000" stroke-width="2.3" fill="none"/>
<path d="M887.7 1916V1921.2M987.5 1916V1921.2M1087.3 1916V1921.2M1187.1 1916V1921.2M1286.9 1916V1921.2M1386.7 1916V1921.2M1486.5 1916V1921.2" stroke="#000" stroke-width="2.2" fill="none"/>
<path d="M907.66 1916V1919.2M927.62 1916V1919.2M947.58 1916V1919.2M967.54 1916V1919.2M1007.46 1916V1919.2M1027.42 1916V1919.2M1047.38 1916V1919.2M1067.34 1916V1919.2M1107.26 1916V1919.2M1127.22 1916V1919.2M1147.18 1916V1919.2M1167.14 1916V1919.2M1207.06 1916V1919.2M1227.02 1916V1919.2M1246.98 1916V1919.2M1266.94 1916V1919.2M1306.86 1916V1919.2M1326.82 1916V1919.2M1346.78 1916V1919.2M1366.74 1916V1919.2M1406.66 1916V1919.2M1426.62 1916V1919.2M1446.58 1916V1919.2M1466.54 1916V1919.2" stroke="#000" stroke-width="1.8" fill="none"/>
<text class="tk" text-anchor="middle" transform="translate(887.7 1951.3) rotate(0.1) scale(1.0 1.04)">0</text>
<text class="tk" text-anchor="middle" transform="translate(987.5 1951.3) rotate(0.1) scale(1.0 1.04)">5</text>
<g transform="translate(1087.3 1951.3) rotate(0.1) scale(1.0 1.04)"><text class="tk" text-anchor="middle">10</text><g fill="#fff"><rect x="-16.04" y="-3.46" width="6.20" height="4.51"/><rect x="-5.66" y="-3.46" width="5.81" height="4.51"/></g></g>
<g transform="translate(1187.1 1951.3) rotate(0.1) scale(1.0 1.04)"><text class="tk" text-anchor="middle">15</text><g fill="#fff"><rect x="-16.04" y="-3.46" width="6.20" height="4.51"/><rect x="-5.66" y="-3.46" width="5.81" height="4.51"/></g></g>
<text class="tk" text-anchor="middle" transform="translate(1286.9 1951.3) rotate(0.1) scale(1.0 1.04)">20</text>
<text class="tk" text-anchor="middle" transform="translate(1386.7 1951.3) rotate(0.1) scale(1.0 1.04)">25</text>
<text class="tk" text-anchor="middle" transform="translate(1486.5 1951.3) rotate(0.1) scale(1.0 1.04)">30</text>
<text class="tt" text-anchor="middle" transform="translate(1187.4 1988.7) rotate(0.1) scale(1.0 1.04)">Time (min)</text>
<g fill="#000"><circle cx="907.66" cy="1721.2" r="7.25"/><circle cx="927.62" cy="1662.3" r="7.25"/><circle cx="947.58" cy="1680.8" r="7.25"/><circle cx="967.54" cy="1722.2" r="7.25"/><circle cx="987.5" cy="1722.2" r="7.25"/><circle cx="1007.46" cy="1722" r="7.25"/><circle cx="1027.42" cy="1721.8" r="7.25"/><circle cx="1047.38" cy="1656.3" r="7.25"/><circle cx="1067.34" cy="1702.9" r="7.25"/><circle cx="1087.3" cy="1716.5" r="7.25"/><circle cx="1107.26" cy="1712.5" r="7.25"/><circle cx="1127.22" cy="1625.1" r="7.25"/><circle cx="1147.18" cy="1732.9" r="7.25"/><circle cx="1167.14" cy="1644.4" r="7.25"/><circle cx="1187.1" cy="1617.1" r="7.25"/><circle cx="1207.06" cy="1725.6" r="7.25"/><circle cx="1227.02" cy="1685.7" r="7.25"/><circle cx="1246.98" cy="1656.75" r="7.25"/><circle cx="1266.94" cy="1642.9" r="7.25"/><circle cx="1286.9" cy="1720.1" r="7.25"/><circle cx="1306.86" cy="1632.3" r="7.25"/><circle cx="1326.82" cy="1601.5" r="7.25"/><circle cx="1346.78" cy="1628.3" r="7.25"/><circle cx="1366.74" cy="1621.2" r="7.25"/><circle cx="1386.7" cy="1638.5" r="7.25"/><circle cx="1406.66" cy="1665.9" r="7.25"/><circle cx="1426.62" cy="1674.8" r="7.25"/><circle cx="1446.58" cy="1687.8" r="7.25"/><circle cx="1466.54" cy="1726.7" r="7.25"/><circle cx="1486.5" cy="1701.2" r="7.25"/></g>
<polyline points="907.66,1721.2 927.62,1662.3 947.58,1680.8 967.54,1722.2 987.5,1722.2 1007.46,1722 1027.42,1721.8 1047.38,1656.3 1067.34,1702.9 1087.3,1716.5 1107.26,1712.5 1127.22,1625.1 1147.18,1732.9 1167.14,1644.4 1187.1,1617.1 1207.06,1725.6 1227.02,1685.7 1246.98,1656.75 1266.94,1642.9 1286.9,1720.1 1306.86,1632.3 1326.82,1601.5 1346.78,1628.3 1366.74,1621.2 1386.7,1638.5 1406.66,1665.9 1426.62,1674.8 1446.58,1687.8 1466.54,1726.7 1486.5,1701.2" fill="none" stroke="#000" stroke-width="2.3" stroke-linejoin="round"/>
<rect x="1184.3" y="1516.3" width="18.5" height="397.95" fill="#e6bd8f" fill-opacity="0.265"/>
<clipPath id="band7"><rect x="1184.3" y="1515" width="18.5" height="400.15"/></clipPath>
<g clip-path="url(#band7)"><polyline points="1167.14,1644.4 1187.1,1617.1 1207.06,1725.6" fill="none" stroke="#1a1109" stroke-width="2.3" stroke-linejoin="round"/><circle cx="1187.1" cy="1617.1" r="7.25" fill="#3d3226"/></g>
<path d="M1184 1515V1915.15" stroke="#0a0603" stroke-width="2.7" fill="none"/><path d="M1201.9 1515V1915.15" stroke="#24180e" stroke-width="2.7" fill="none"/>
</g>
</svg>
</body></html>
